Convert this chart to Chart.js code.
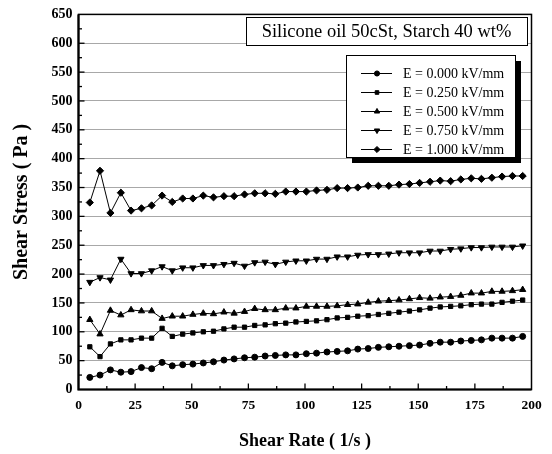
<!DOCTYPE html>
<html>
<head>
<meta charset="utf-8">
<script src="https://cdn.jsdelivr.net/npm/chart.js@4"></script>
<style>
  html, body { margin: 0; padding: 0; background: #fff; }
  #wrap { width: 552px; height: 454px; }
</style>
</head>
<body>
<div id="wrap"><canvas id="chart" width="552" height="454"></canvas></div>
<script>
//Shear rate (1/s) of each measured point
const shearRate = [5.0, 9.5, 14.1, 18.7, 23.2, 27.8, 32.3, 36.9, 41.4, 46.0, 50.5, 55.1, 59.6, 64.2, 68.7,
  73.3, 77.8, 82.4, 86.9, 91.5, 96.0, 100.6, 105.1, 109.7, 114.2, 118.8, 123.3, 127.9, 132.4, 137.0,
  141.5, 146.1, 150.6, 155.2, 159.7, 164.3, 168.8, 173.4, 177.9, 182.5, 187.0, 191.6, 196.1];
//Shear stress (Pa) for each field strength
const stressE0 = [21, 25, 34, 30, 31, 38, 36, 47, 41, 43, 44, 46, 48, 51, 53,
  55, 56, 58, 59, 60, 60, 62, 63, 65, 66, 67, 70, 71, 73,
  74, 75, 76, 77, 80, 82, 82, 84, 85, 86, 89, 89, 89, 92];
const stressE025 = [74, 57, 79, 86, 86, 89, 89, 106, 92, 96, 98, 100, 101, 105, 108,
  108, 111, 112, 114, 115, 117, 118, 119, 121, 124, 125, 127, 128, 130,
  132, 134, 136, 138, 141, 143, 144, 145, 147, 148, 148, 151, 153, 155];
const stressE050 = [121, 96, 137, 129, 138, 136, 136, 123, 127, 127, 130, 132, 131, 134, 132,
  135, 140, 138, 138, 141, 141, 144, 144, 144, 145, 147, 148, 151, 153,
  154, 155, 157, 159, 158, 160, 161, 163, 167, 167, 170, 170, 171, 173];
const stressE075 = [186, 194, 190, 226, 201, 201, 206, 213, 206, 211, 211, 215, 215, 217, 219,
  214, 220, 221, 217, 221, 223, 223, 226, 226, 230, 230, 233, 234, 234,
  235, 237, 237, 237, 240, 240, 243, 244, 246, 246, 247, 247, 247, 249];
const stressE100 = [324, 379, 306, 341, 310, 314, 319, 336, 325, 331, 331, 336, 333, 335, 335,
  338, 340, 340, 339, 343, 343, 343, 345, 346, 349, 349, 350, 353, 353,
  353, 355, 356, 358, 360, 362, 361, 364, 366, 365, 367, 369, 370, 370];
const seriesLabels = ["E = 0.000 kV/mm", "E = 0.250 kV/mm", "E = 0.500 kV/mm", "E = 0.750 kV/mm", "E = 1.000 kV/mm"];
const yTicks = [0, 50, 100, 150, 200, 250, 300, 350, 400, 450, 500, 550, 600, 650];
const xTicks = [0, 25, 50, 75, 100, 125, 150, 175, 200];
const titleText = "Silicone oil 50cSt, Starch 40 wt%";

const serif = "'Liberation Serif', 'Times New Roman', serif";
const allStress = [stressE0, stressE025, stressE050, stressE075, stressE100];
//marker for each series
const markers = [
  { style: "circle", r: 3, rot: 0 },
  { style: "rect", r: 3, rot: 0 },
  { style: "triangle", r: 3.6, rot: 0 },
  { style: "triangle", r: 3.6, rot: 180 },
  { style: "rectRot", r: 3.6, rot: 0 },
];

const datasets = allStress.map((arr, i) => ({
  label: seriesLabels[i],
  data: arr.map((v, j) => ({ x: shearRate[j], y: v })),
  borderColor: "#000",
  backgroundColor: "#000",
  borderWidth: 1,
  pointStyle: markers[i].style,
  pointRadius: markers[i].r,
  pointRotation: markers[i].rot,
  pointBorderWidth: 1,
  tension: 0,
}));

//frame, inward ticks, title box and legend box
const decorations = {
  id: "decorations",
  afterDraw(chart) {
    const ctx = chart.ctx;
    const a = chart.chartArea;
    const xs = chart.scales.x, ys = chart.scales.y;
    ctx.save();
    ctx.strokeStyle = "#000";
    //inward ticks
    ctx.lineWidth = 1.3;
    for (let v = 25; v < 650; v += 25) {
      const py = ys.getPixelForValue(v);
      const len = v % 50 === 0 ? 6 : 3.5;
      ctx.beginPath(); ctx.moveTo(a.left, py); ctx.lineTo(a.left + len, py); ctx.stroke();
    }
    for (let v = 12.5; v < 200; v += 12.5) {
      const px = xs.getPixelForValue(v);
      const len = v % 25 === 0 ? 6 : 3.5;
      ctx.beginPath(); ctx.moveTo(px, a.bottom); ctx.lineTo(px, a.bottom - len); ctx.stroke();
    }
    //plot frame
    ctx.lineWidth = 1.5;
    ctx.strokeRect(a.left, a.top, a.right - a.left, a.bottom - a.top);
    ctx.lineWidth = 2.2;
    ctx.beginPath();
    ctx.moveTo(a.left, a.top); ctx.lineTo(a.left, a.bottom); ctx.lineTo(a.right, a.bottom);
    ctx.stroke();

    //title box
    const tb = { x: 246, y: 17, w: 281, h: 28 };
    ctx.fillStyle = "#fff";
    ctx.fillRect(tb.x, tb.y, tb.w, tb.h);
    ctx.lineWidth = 1;
    ctx.strokeRect(tb.x + 0.5, tb.y + 0.5, tb.w, tb.h);
    ctx.fillStyle = "#000";
    ctx.font = "18.5px " + serif;
    ctx.textAlign = "center";
    ctx.textBaseline = "middle";
    ctx.fillText(titleText, tb.x + tb.w / 2, tb.y + tb.h / 2 + 1);

    //legend box with shadow
    const lb = { x: 346, y: 55, w: 169, h: 102 };
    ctx.fillStyle = "#000";
    ctx.fillRect(lb.x + 6, lb.y + 6, lb.w, lb.h);
    ctx.fillStyle = "#fff";
    ctx.fillRect(lb.x, lb.y, lb.w, lb.h);
    ctx.lineWidth = 1;
    ctx.strokeRect(lb.x + 0.5, lb.y + 0.5, lb.w, lb.h);
    ctx.font = "14px " + serif;
    ctx.textAlign = "left";
    chart.data.datasets.forEach((ds, i) => {
      const ry = 73.5 + i * 19;
      ctx.strokeStyle = "#000";
      ctx.lineWidth = 1;
      ctx.beginPath(); ctx.moveTo(361, ry); ctx.lineTo(392, ry); ctx.stroke();
      ctx.fillStyle = "#000";
      Chart.helpers.drawPoint(ctx, {
        pointStyle: ds.pointStyle, radius: ds.pointRadius * 0.85,
        rotation: ds.pointRotation, borderWidth: 1
      }, 377, ry);
      ctx.fillStyle = "#000";
      ctx.fillText(ds.label, 403, ry + 1);
    });
    ctx.restore();
  }
};

new Chart(document.getElementById("chart"), {
  type: "line",
  data: { datasets: datasets },
  plugins: [decorations],
  options: {
    responsive: false,
    animation: false,
    layout: { padding: { top: 13, right: 20.5, left: 0, bottom: 0 } },
    plugins: {
      legend: { display: false },
      tooltip: { enabled: false },
    },
    scales: {
      x: {
        type: "linear",
        min: 0,
        max: 200,
        afterFit: (scale) => { scale.height = 64.5; },
        afterBuildTicks: (scale) => { scale.ticks = xTicks.map(v => ({ value: v })); },
        grid: { display: false, drawTicks: false },
        border: { display: false },
        ticks: {
          color: "#000",
          padding: 8,
          maxRotation: 0,
          font: { family: serif, size: 13.5, weight: "bold" },
        },
        title: {
          display: true,
          text: "Shear Rate ( 1/s )",
          color: "#000",
          padding: { top: 0, bottom: 2 },
          font: { family: serif, size: 18, weight: "bold" },
        },
      },
      y: {
        min: 0,
        max: 650,
        afterFit: (scale) => { scale.width = 78.5; },
        afterBuildTicks: (scale) => { scale.ticks = yTicks.map(v => ({ value: v })); },
        grid: { color: "#a8a8a8", lineWidth: 1, drawTicks: false },
        border: { display: false },
        ticks: {
          color: "#000",
          padding: 6,
          font: { family: serif, size: 14, weight: "bold" },
        },
        title: {
          display: true,
          text: "Shear Stress ( Pa )",
          color: "#000",
          padding: { top: 10, bottom: 0 },
          font: { family: serif, size: 20, weight: "bold" },
        },
      },
    },
  },
});
</script>
</body>
</html>
